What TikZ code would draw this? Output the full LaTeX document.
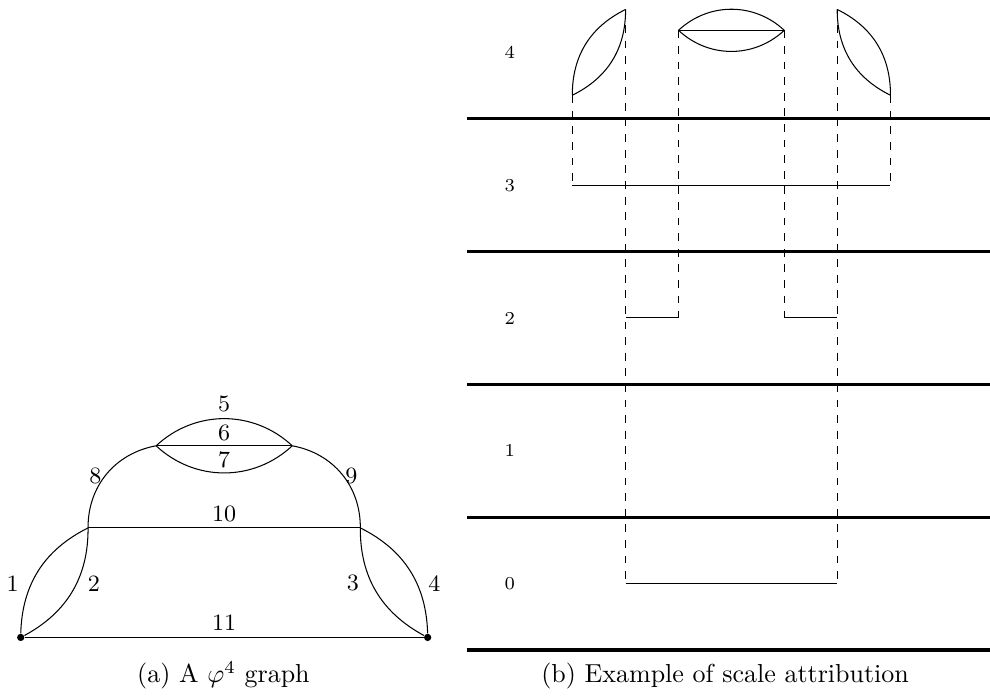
\documentclass[tikz,border=0pt]{standalone}
\usepackage{amsmath,amssymb}
\usetikzlibrary{positioning}

\begin{document}
\begin{tikzpicture}[-, thin,
        dot node/.style={circle, fill=black, minimum size=2.8pt, inner sep=0pt},
        edge num/.style={font=\small, inner sep=0pt},
        level num/.style={font=\scriptsize, inner sep=0pt},
        scale line/.style={line width=1.2pt},
        proj line/.style={dashed}]

    \useasboundingbox (0,0) rectangle (13.38,9.405);

    % (a) the phi^4 graph
    \node[dot node] (a) at (0.28, 0.79) {};
    \node[dot node] (b) at (5.78, 0.79) {};
    \coordinate (c) at (1.19, 2.27);
    \coordinate (d) at (4.87, 2.27);
    \coordinate (e) at (2.11, 3.38);
    \coordinate (f) at (3.95, 3.38);

    % Two lenses at the bottom
    \path
        (a) edge[bend left=31] (c)
        (a) edge[bend right=31] (c)
        (b) edge[bend right=31] (d)
        (b) edge[bend left=31] (d);

    % The big arcs and the straight lines
    \path
        (c) edge[bend left=40] (e)
        (d) edge[bend right=40] (f)
        (c) edge (d)
        (a) edge (b);

    % The bubble on top
    \path
        (e) edge[bend left=43] (f)
        (e) edge (f)
        (e) edge[bend right=43] (f);

    \node[edge num] (n1) at (0.17, 1.52) {1};
    \node[edge num] (n2) at (1.27, 1.52) {2};
    \node[edge num] (n3) at (4.77, 1.52) {3};
    \node[edge num] (n4) at (5.87, 1.52) {4};
    \node[edge num] (n5) at (3.03, 3.95) {5};
    \node[edge num] (n6) at (3.03, 3.56) {6};
    \node[edge num] (n7) at (3.03, 3.19) {7};
    \node[edge num] (n8) at (1.29, 2.97) {8};
    \node[edge num] (n9) at (4.75, 2.97) {9};
    \node[edge num] (n10) at (3.03, 2.46) {10};
    \node[edge num] (n11) at (3.03, 0.99) {11};

    \node[anchor=base] (capa) at (3.02, 0.175) {(a) A $\varphi^4$ graph};

    % (b) the scales
    \foreach \y in {0.62, 2.415, 4.21, 6.005, 7.80}
        \draw[scale line] (6.31,\y) -- (13.38,\y);
    \foreach \i/\y in {0/1.5175, 1/3.3125, 2/5.1075, 3/6.9025, 4/8.6975}
        \node[level num] (lev\i) at (6.89,\y) {\i};

    \coordinate (s1b) at (7.735, 8.118);
    \coordinate (s1t) at (8.455, 9.277);
    \coordinate (s2l) at (9.17, 8.995);
    \coordinate (s2r) at (10.60, 8.995);
    \coordinate (s3t) at (11.315, 9.277);
    \coordinate (s3b) at (12.035, 8.118);

    \coordinate (p3l) at (7.735, 6.9025);
    \coordinate (p3r) at (12.035, 6.9025);
    \coordinate (p2a) at (8.455, 5.1075);
    \coordinate (p2b) at (9.17, 5.1075);
    \coordinate (p2c) at (10.60, 5.1075);
    \coordinate (p2d) at (11.315, 5.1075);
    \coordinate (p0l) at (8.455, 1.5175);
    \coordinate (p0r) at (11.315, 1.5175);

    % Subgraphs at scale 4
    \path
        (s1b) edge[bend left=32] (s1t)
        (s1b) edge[bend right=32] (s1t)
        (s2l) edge[bend left=43] (s2r)
        (s2l) edge (s2r)
        (s2l) edge[bend right=43] (s2r)
        (s3b) edge[bend right=32] (s3t)
        (s3b) edge[bend left=32] (s3t);

    % Dashed projections down to the lower scales
    \path
        (s1b) edge[proj line] (p3l)
        (s3b) edge[proj line] (p3r)
        (s2l) edge[proj line] (p2b)
        (s2r) edge[proj line] (p2c)
        (s1t) edge[proj line] (p0l)
        (s3t) edge[proj line] (p0r);

    % Horizontal links
    \path
        (p3l) edge (p3r)
        (p2a) edge (p2b)
        (p2c) edge (p2d)
        (p0l) edge (p0r);

    \node[anchor=base] (capb) at (9.80, 0.175) {(b) Example of scale attribution};

\end{tikzpicture}
\end{document}
